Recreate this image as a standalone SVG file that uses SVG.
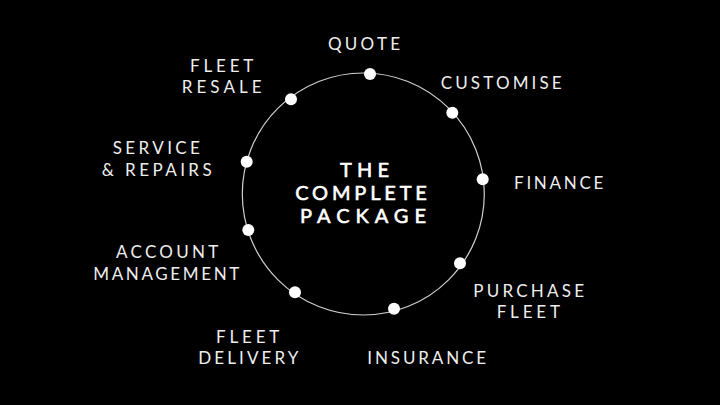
<svg xmlns="http://www.w3.org/2000/svg" width="720" height="405" viewBox="0 0 720 405">
<style>
.lbl{font-family:Lato,"Liberation Sans",sans-serif;font-size:17px;font-weight:400;fill:#eeeeee;text-anchor:middle}
.ctr{font-family:Lato,"Liberation Sans",sans-serif;font-size:20px;font-weight:400;fill:#ffffff;stroke:#ffffff;stroke-width:0.6;text-anchor:middle}
.dot{fill:#ffffff}
</style>
<rect x="0" y="0" width="720" height="405" fill="#000000"/>
<g id="connectors">
<circle cx="363.3" cy="194" r="121" fill="none" stroke="#d0d0d0" stroke-width="1.2"/>
</g>
<g id="center">
<text class="ctr" x="364.5" y="177.3" textLength="49" lengthAdjust="spacing">THE</text>
<text class="ctr" x="361" y="200" textLength="131.7" lengthAdjust="spacing">COMPLETE</text>
<text class="ctr" x="363" y="223" textLength="126" lengthAdjust="spacing">PACKAGE</text>
</g>
<g id="quote">
<circle class="dot" cx="370" cy="74" r="6"/>
<text class="lbl" x="364" y="50" textLength="72" lengthAdjust="spacing">QUOTE</text>
</g>
<g id="customise">
<circle class="dot" cx="452.3" cy="112.7" r="6"/>
<text class="lbl" x="501.2" y="89.3" textLength="121" lengthAdjust="spacing">CUSTOMISE</text>
</g>
<g id="finance">
<circle class="dot" cx="482.7" cy="179.3" r="6"/>
<text class="lbl" x="558.7" y="189.3" textLength="89.3" lengthAdjust="spacing">FINANCE</text>
</g>
<g id="purchase-fleet">
<circle class="dot" cx="460" cy="263.3" r="6"/>
<text class="lbl" x="528.7" y="297.3" textLength="110.7" lengthAdjust="spacing">PURCHASE</text>
<text class="lbl" x="528.3" y="318.3" textLength="63.3" lengthAdjust="spacing">FLEET</text>
</g>
<g id="insurance">
<circle class="dot" cx="394" cy="308.7" r="6"/>
<text class="lbl" x="426.7" y="364" textLength="118.7" lengthAdjust="spacing">INSURANCE</text>
</g>
<g id="fleet-delivery">
<circle class="dot" cx="295" cy="292.3" r="6"/>
<text class="lbl" x="247.7" y="342.7" textLength="63.3" lengthAdjust="spacing">FLEET</text>
<text class="lbl" x="248.3" y="364" textLength="100" lengthAdjust="spacing">DELIVERY</text>
</g>
<g id="account-management">
<circle class="dot" cx="248.3" cy="230" r="6"/>
<text class="lbl" x="167.2" y="258.3" textLength="102.3" lengthAdjust="spacing">ACCOUNT</text>
<text class="lbl" x="166.3" y="280" textLength="146" lengthAdjust="spacing">MANAGEMENT</text>
</g>
<g id="service-repairs">
<circle class="dot" cx="246.7" cy="161.7" r="6"/>
<text class="lbl" x="156.3" y="154" textLength="87.3" lengthAdjust="spacing">SERVICE</text>
<text class="lbl" x="156.7" y="175.7" textLength="110" lengthAdjust="spacing">&amp; REPAIRS</text>
</g>
<g id="fleet-resale">
<circle class="dot" cx="291" cy="99.3" r="6"/>
<text class="lbl" x="221.7" y="71.7" textLength="63.3" lengthAdjust="spacing">FLEET</text>
<text class="lbl" x="221.7" y="93.3" textLength="80" lengthAdjust="spacing">RESALE</text>
</g>
</svg>
